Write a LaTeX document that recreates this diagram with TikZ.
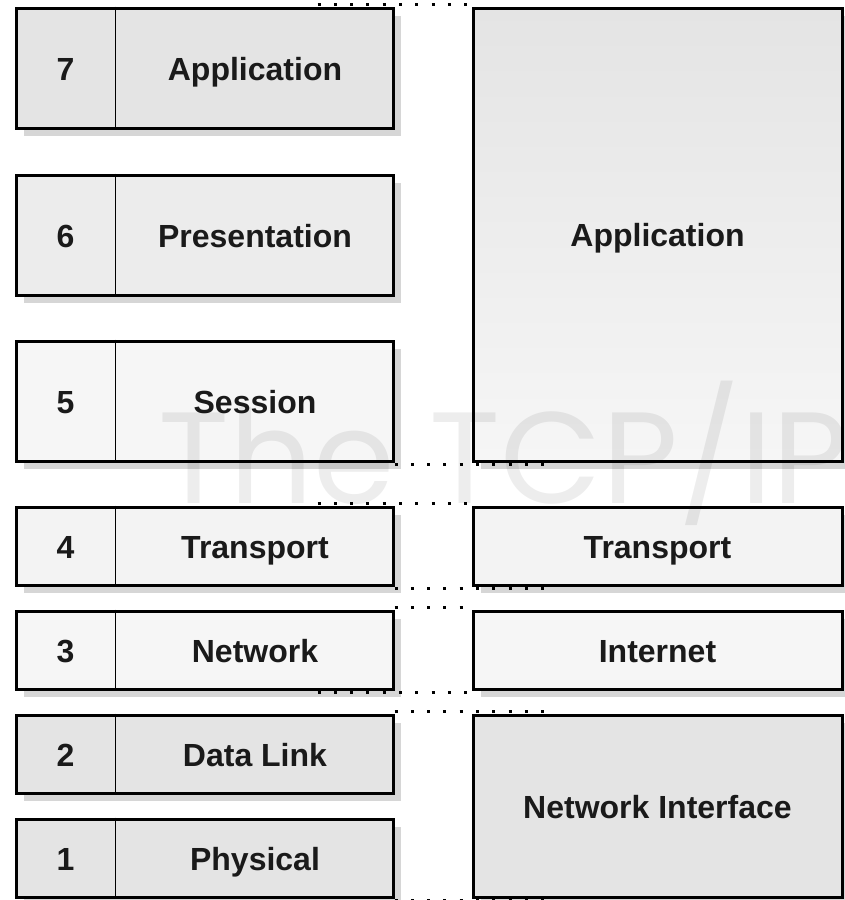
\documentclass[tikz,border=0pt]{standalone}
\usepackage{fontspec}
\setmainfont{Liberation Sans}
\newfontfamily\wmfont{Poppins}
\usetikzlibrary{shadows,calc}
\definecolor{gA}{HTML}{E4E4E4}
\definecolor{gB}{HTML}{ECECEC}
\definecolor{gC}{HTML}{F3F3F3}
\definecolor{gD}{HTML}{F6F6F6}
\definecolor{shd}{HTML}{D6D6D6}
\definecolor{txt}{HTML}{1A1A1A}
\tikzset{
  layerbox/.style={draw=black, line width=3pt, inner sep=0pt, minimum width=377pt,
    drop shadow={shadow xshift=8pt, shadow yshift=-8pt, fill=shd, opacity=1}},
  rbox/.style={draw=black, line width=3pt, inner sep=0pt, minimum width=369pt,
    drop shadow={shadow xshift=8pt, shadow yshift=-8pt, fill=shd, opacity=1}},
  lbl/.style={text=txt, font=\fontsize{32}{38}\selectfont\bfseries, inner sep=0pt, anchor=base},
  divider/.style={draw=black, line width=1.6pt},
  dotline/.style={draw=black, line width=2.6pt, dash pattern=on 3pt off 13.3pt},
}
\begin{document}
\begin{tikzpicture}[x=1pt,y=-1pt]
\useasboundingbox (0,0) rectangle (844,900);
% left column (OSI)
\node[layerbox, fill=gA, minimum height=120pt] (l7) at (204.5,68) {};
\node[layerbox, fill=gB, minimum height=120pt] (l6) at (204.5,235) {};
\node[layerbox, fill=gD, minimum height=120pt] (l5) at (204.5,401) {};
\node[layerbox, fill=gC, minimum height=78pt] (l4) at (204.5,546) {};
\node[layerbox, fill=gD, minimum height=78pt] (l3) at (204.5,650) {};
\node[layerbox, fill=gA, minimum height=78pt] (l2) at (204.5,754) {};
\node[layerbox, fill=gA, minimum height=78pt] (l1) at (204.5,858) {};
\foreach \b in {l7,l6,l5,l4,l3,l2,l1}{
  \draw[divider] ($(\b.north west)+(101,0)$) -- ($(\b.south west)+(101,0)$);
}
% labels left
\foreach \b/\n/\t in {l7/7/Application, l6/6/Presentation, l5/5/Session, l4/4/Transport, l3/3/Network, l2/2/Data Link, l1/1/Physical}{
  \node[lbl] (\b n) at ($(\b.west)+(51,12)$) {\n};
  \node[lbl] (\b t) at ($(\b.center)+(50.5,12)$) {\t};
}
% right column (TCP/IP)
\node[rbox, top color=gA, bottom color=gD, minimum height=453pt] (app) at (657.5,234.5) {};
\node[rbox, fill=gC, minimum height=78pt] (tra) at (657.5,546) {};
\node[rbox, fill=gD, minimum height=78pt] (int) at (657.5,650) {};
\node[rbox, fill=gA, minimum height=182pt] (nif) at (657.5,806) {};
\node[lbl] (appt) at ($(app.center)+(0,12)$) {Application};
\node[lbl] (trat) at ($(tra.center)+(0,12)$) {Transport};
\node[lbl] (intt) at ($(int.center)+(0,12)$) {Internet};
\node[lbl] (nift) at ($(nif.center)+(0,12)$) {Network Interface};
% dotted correspondence lines
\draw[dotline] ($(l7.north east)+(-77,-2)$) -- ($(app.north west)+(0,-2)$);
\draw[dotline] ($(l5.south east)+(0,2)$) -- ($(app.south west)+(77,2)$);
\draw[dotline] ($(l4.north east)+(-77,-2)$) -- ($(tra.north west)+(0,-2)$);
\draw[dotline] ($(l4.south east)+(0,2)$) -- ($(tra.south west)+(77,2)$);
\draw[dotline] ($(l3.north east)+(0,-2)$) -- ($(int.north west)+(0,-2)$);
\draw[dotline] ($(l3.south east)+(-77,2)$) -- ($(int.south west)+(0,2)$);
\draw[dotline] ($(l2.north east)+(0,-2)$) -- ($(nif.north west)+(77,-2)$);
\draw[dotline] ($(l1.south east)+(0,2)$) -- ($(nif.south west)+(77,2)$);
% watermark
\node[anchor=base west, inner sep=0pt, text=black, text opacity=0.07, xscale=1.01,
  font=\fontsize{130}{130}\selectfont\wmfont] (wm) at (158,503) {The TCP/IP};
\end{tikzpicture}
\end{document}
